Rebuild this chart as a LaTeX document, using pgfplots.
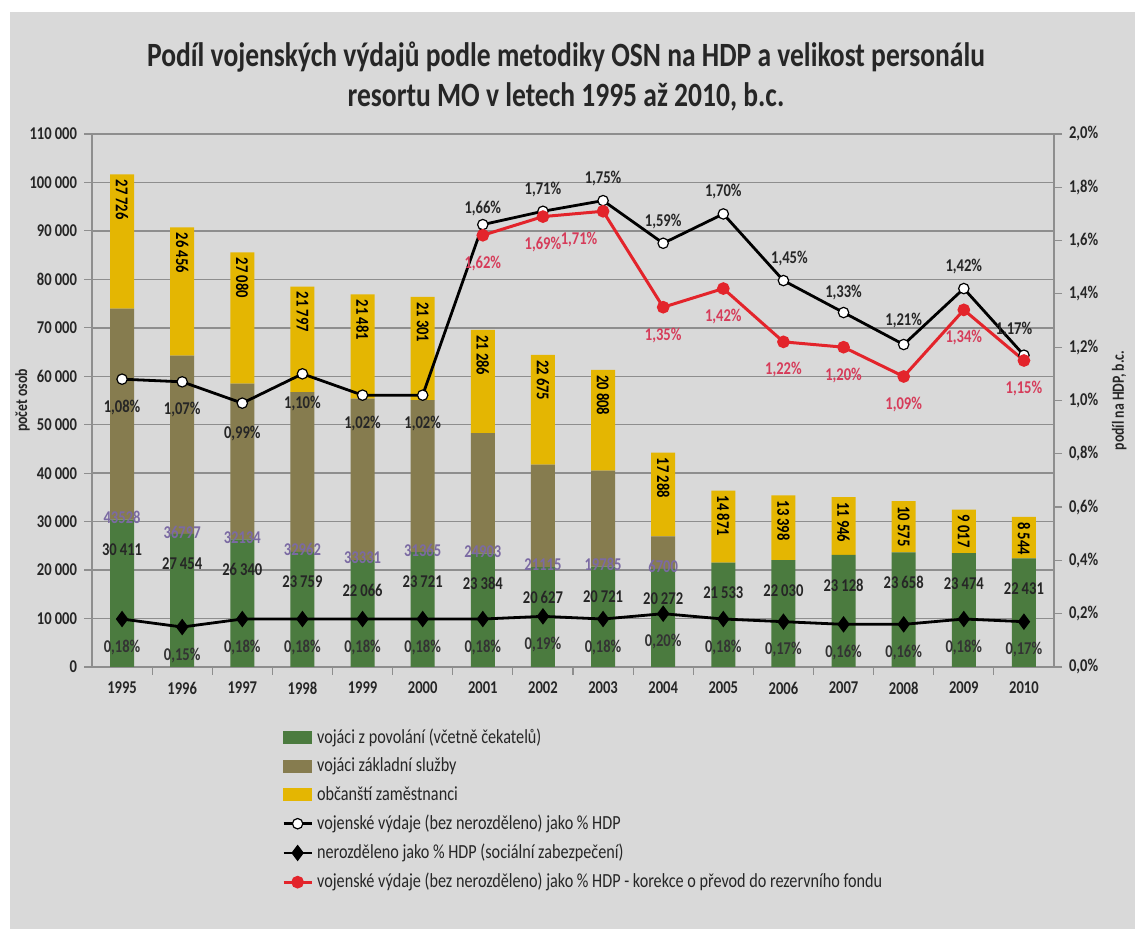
\documentclass[border=0pt]{standalone}
\usepackage{fontspec}
\setmainfont{Carlito}[FakeStretch=0.81]
\usepackage{pgfplots}
\usepackage{pgfplotstable}
\pgfplotsset{compat=1.18}

\definecolor{bgc}{HTML}{D9D9D9}
\definecolor{gridc}{HTML}{8E8E8E}
\definecolor{prof}{HTML}{4B7B3F}
\definecolor{zakl}{HTML}{867C4F}
\definecolor{civ}{HTML}{E4B602}
\definecolor{linered}{HTML}{E3242B}
\definecolor{labred}{HTML}{D63C5A}
\definecolor{labpurp}{HTML}{7B6AA3}
\definecolor{txt}{HTML}{262626}

% personal resortu MO (pocet osob)
\pgfplotstableread{
x rok  prof  zakl  civ   zl
0 1995 30411 43528 27726 43528
1 1996 27454 36797 26456 36797
2 1997 26340 32134 27080 32134
3 1998 23759 32962 21797 32962
4 1999 22066 33331 21481 33331
5 2000 23721 31365 21301 31365
6 2001 23384 24903 21286 24903
7 2002 20627 21115 22675 21115
8 2003 20721 19785 20808 19785
9 2004 20272 6700  17288 6700
10 2005 21533 0    14871 {}
11 2006 22030 0    13398 {}
12 2007 23128 0    11946 {}
13 2008 23658 0    10575 {}
14 2009 23474 0    9017  {}
15 2010 22431 0    8544  {}
}\personal

% podil na HDP (%)
\pgfplotstableread{
x  vyd  nero dy  dx
0  1.08 0.18 -14 0
1  1.07 0.15 -14 0
2  0.99 0.18 -15 0
3  1.10 0.18 -15 0
4  1.02 0.18 -14 0
5  1.02 0.18 -14 0
6  1.66 0.18 8   0
7  1.71 0.19 11  0
8  1.75 0.18 11  0
9  1.59 0.20 11  0
10 1.70 0.18 11  0
11 1.45 0.17 11  3
12 1.33 0.16 10  0
13 1.21 0.16 12  0
14 1.42 0.18 11  0
15 1.17 0.17 13  -5
}\hdp

% korekce o prevod do rezervniho fondu
\pgfplotstableread{
x  red  dx
6  1.62 0
7  1.69 0
8  1.71 -12
9  1.35 0
10 1.42 0
11 1.22 0
12 1.20 0
13 1.09 0
14 1.34 0
15 1.15 0
}\korekce

\pgfplotsset{
  geom/.style={
    at={(46pt,131pt)}, anchor=south west,
    scale only axis, width=481pt, height=266.5pt,
    xmin=-0.5, xmax=15.5,
    enlarge x limits=false, enlarge y limits=false,
    clip=false,
  },
  ticktext/.style={font=\fontsize{9}{10}\selectfont\bfseries, text=txt},
  osoby/.style={/pgf/number format/.cd, fixed, precision=0, 1000 sep={\,}, assume math mode=true},
}
\newcommand{\lab}{\fontsize{9}{10}\selectfont\bfseries}

\begin{document}
\begin{tikzpicture}
\useasboundingbox (0,0) rectangle (567.5pt,464.5pt);
\fill[white] (0,0) rectangle (567.5pt,464.5pt);
\fill[bgc] (5pt,0) rectangle (567.5pt,458.5pt);

% sloupce
\begin{axis}[geom,
  ybar stacked, bar width=12pt,
  ymin=0, ymax=110000,
  ytick={0,10000,20000,30000,40000,50000,60000,70000,80000,90000,100000,110000},
  scaled y ticks=false,
  osoby,
  xtick={0,...,15},
  xticklabels from table={\personal}{rok},
  minor xtick={0.5,1.5,...,14.5},
  tick pos=left, tick align=outside,
  major tick length=4pt, minor tick length=4pt,
  every major x tick/.append style={draw=none},
  tick style={gridc, line width=0.6pt},
  ticklabel style=ticktext,
  ymajorgrids, grid style={gridc, line width=0.7pt},
  axis line style={gridc, line width=0.7pt},
  ylabel={počet osob},
  ylabel style={font=\fontsize{8.5}{10}\selectfont\bfseries, text=txt, yshift=-7pt},
]
\addplot[fill=prof, draw=none] table[x=x, y=prof] {\personal};
\addplot[fill=zakl, draw=none] table[x=x, y=zakl] {\personal};
\addplot[fill=civ, draw=none] table[x=x, y=civ] {\personal};
\end{axis}

% popisky sloupcu
\begin{axis}[geom, hide axis, ymin=0, ymax=110000, osoby]
\addplot[draw=none, mark=none, forget plot,
  point meta=explicit, nodes near coords,
  nodes near coords style={anchor=center, yshift=-15pt, font=\lab, text=black!85},
] table[x=x, y=prof, meta=prof] {\personal};
\addplot[draw=none, mark=none, forget plot,
  point meta=explicit symbolic, nodes near coords,
  nodes near coords style={anchor=center, yshift=1pt, font=\lab, text=labpurp},
] table[x=x, y=prof, meta=zl] {\personal};
\addplot[draw=none, mark=none, forget plot,
  point meta=explicit, nodes near coords,
  nodes near coords style={rotate=-90, anchor=west, inner sep=2.5pt, font=\lab, text=black},
] table[x=x, y expr=\thisrow{prof}+\thisrow{zakl}+\thisrow{civ}, meta=civ] {\personal};
\end{axis}

% podil na HDP
\begin{axis}[geom,
  axis y line*=right, axis x line=none,
  ymin=0, ymax=2,
  ytick={0,0.2,0.4,0.6,0.8,1.0,1.2,1.4,1.6,1.8,2.0},
  yticklabel={\pgfmathprintnumber[fixed,fixed zerofill,precision=1,use comma,assume math mode=true]{\tick}\%},
  tick align=outside, major tick length=4pt,
  tick style={gridc, line width=0.6pt},
  ticklabel style=ticktext,
  axis line style={gridc, line width=0.7pt},
  ylabel={podíl na HDP, b.c.},
  ylabel style={font=\fontsize{8.5}{10}\selectfont\bfseries, text=txt},
  legend style={at={(0.191,-0.1)}, anchor=north west, draw=none, fill=none,
    font=\fontsize{10}{11}\selectfont, text=txt, row sep=1.8pt},
  legend cell align=left,
  legend image code/.code={\draw[mark repeat=2,mark phase=2,#1] plot coordinates {(0pt,0pt) (7pt,0pt) (14pt,0pt)};},
]
\addlegendimage{legend image code/.code={\fill[prof] (0pt,-3pt) rectangle (14pt,3pt);}}
\addlegendimage{legend image code/.code={\fill[zakl] (0pt,-3pt) rectangle (14pt,3pt);}}
\addlegendimage{legend image code/.code={\fill[civ] (0pt,-3pt) rectangle (14pt,3pt);}}

\addplot[black, line width=1.4pt, mark=*, mark size=2.6pt,
  mark options={fill=white, draw=black, line width=0.6pt},
  point meta=explicit, nodes near coords={\pgfmathprintnumber[fixed,fixed zerofill,precision=2,use comma,assume math mode=true]{\pgfplotspointmeta}\%},
  visualization depends on={\thisrow{dy} \as \dy},
  visualization depends on={\thisrow{dx} \as \dx},
  nodes near coords style={anchor=center, yshift=\dy pt, xshift=\dx pt, font=\lab, text=txt},
] table[x=x, y=vyd, meta=vyd] {\hdp};

\addplot[black, line width=1.4pt, mark=diamond*, mark size=3pt,
  point meta=explicit, nodes near coords={\pgfmathprintnumber[fixed,fixed zerofill,precision=2,use comma,assume math mode=true]{\pgfplotspointmeta}\%},
  nodes near coords style={anchor=center, yshift=-14pt, font=\lab, text=black!80},
] table[x=x, y=nero, meta=nero] {\hdp};

\addplot[linered, line width=1.5pt, mark=*, mark size=2.4pt,
  mark options={fill=linered, draw=linered},
  point meta=explicit, nodes near coords={\pgfmathprintnumber[fixed,fixed zerofill,precision=2,use comma,assume math mode=true]{\pgfplotspointmeta}\%},
  visualization depends on={\thisrow{dx} \as \dx},
  nodes near coords style={anchor=center, yshift=-14pt, xshift=\dx pt, font=\lab, text=labred},
] table[x=x, y=red, meta=red] {\korekce};

\legend{vojáci z povolání (včetně čekatelů), vojáci základní služby, občanští zaměstnanci,
  vojenské výdaje (bez nerozděleno) jako \% HDP,
  nerozděleno jako \% HDP (sociální zabezpečení),
  vojenské výdaje (bez nerozděleno) jako \% HDP - korekce o převod do rezervního fondu}
\end{axis}

% nadpis
\node[anchor=base, font=\fontsize{17}{20}\selectfont\bfseries, text=txt] at (283pt,431pt)
  {Podíl vojenských výdajů podle metodiky OSN na HDP a velikost personálu};
\node[anchor=base, font=\fontsize{17}{20}\selectfont\bfseries, text=txt] at (283pt,411pt)
  {resortu MO v letech 1995 až 2010, b.c.};
\end{tikzpicture}
\end{document}
